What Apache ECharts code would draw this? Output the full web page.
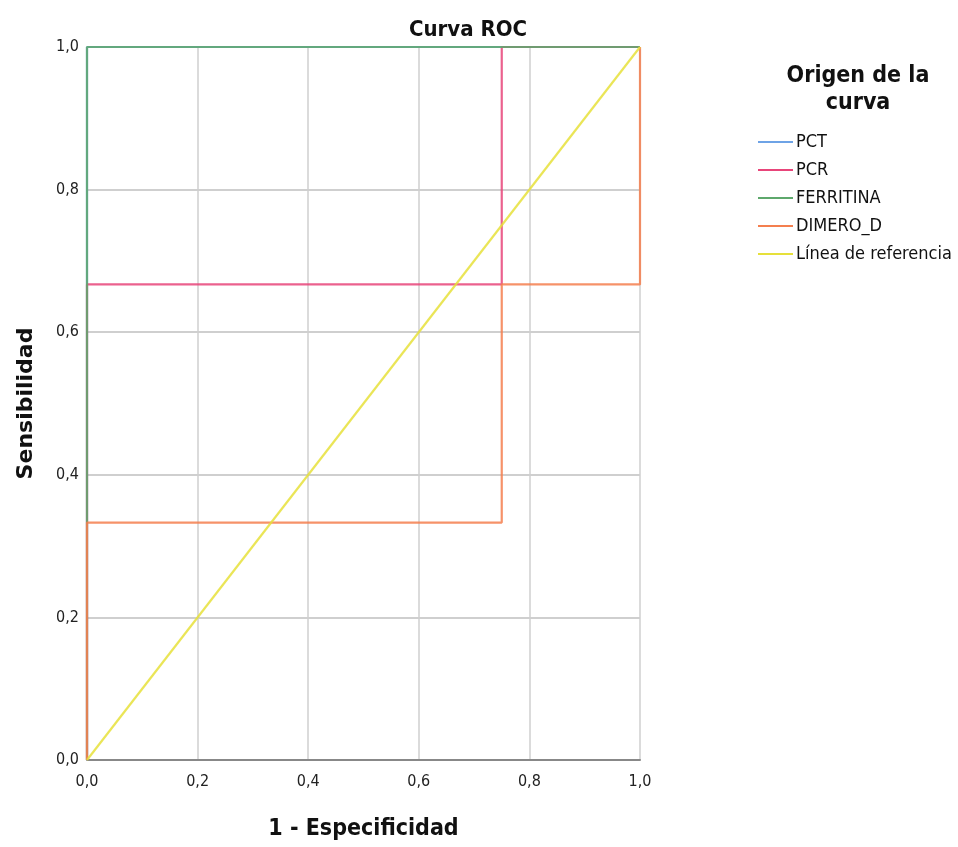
<!DOCTYPE html>
<html>
<head>
<meta charset="utf-8">
<script src="https://cdn.jsdelivr.net/npm/echarts@6/dist/echarts.min.js"></script>
<style>html,body{margin:0;padding:0;background:#fff}#c{width:958px;height:847px}</style>
</head>
<body>
<div id="c"></div>
<script>
const seriesNames = ['PCT', 'PCR', 'FERRITINA', 'DIMERO_D', 'Línea de referencia'];
const pctX = [0, 0, 1];
const pctY = [0, 1, 1];
const pcrX = [0, 0, 0.75, 0.75, 1];
const pcrY = [0, 0.667, 0.667, 1, 1];
const ferX = [0, 0, 1];
const ferY = [0, 1, 1];
const dimX = [0, 0, 0.75, 0.75, 1, 1];
const dimY = [0, 0.333, 0.333, 0.667, 0.667, 1];
const refX = [0, 1];
const refY = [0, 1];
const tickValues = [0, 0.2, 0.4, 0.6, 0.8, 1.0];

const colors = ['#6ea3e6', '#e8457a', '#5ea86c', '#f47f4f', '#e6e03a'];
const FONT = '"Liberation Sans Narrow","DejaVu Sans Condensed","Liberation Sans",sans-serif';

function zip(xs, ys) { return xs.map((x, i) => [x, ys[i]]); }
const dataSets = [zip(pctX, pctY), zip(pcrX, pcrY), zip(ferX, ferY), zip(dimX, dimY), zip(refX, refY)];

const fmt = v => v.toFixed(1).replace('.', ',');

const chart = echarts.init(document.getElementById('c'));
chart.setOption({
  animation: false,
  title: [
    { text: 'Curva ROC', left: 463, top: 14, textAlign: 'center',
      textStyle: { fontFamily: FONT, fontSize: 22, fontWeight: 'bold', color: '#111' } },
    { text: 'Origen de la\ncurva', left: 853, top: 58, textAlign: 'center',
      textStyle: { fontFamily: FONT, fontSize: 23, fontWeight: 'bold', color: '#111', lineHeight: 27 } }
  ],
  legend: {
    orient: 'vertical', left: 753, top: 128,
    itemWidth: 35, itemHeight: 2, itemGap: 10,
    icon: 'rect',
    textStyle: { fontFamily: FONT, fontSize: 18, color: '#111', lineHeight: 18, padding: [0, 0, 0, -2] },
    data: seriesNames
  },
  grid: { left: 87, right: 318, top: 47, bottom: 87 },
  xAxis: {
    type: 'value', min: 0, max: 1, interval: 0.2,
    name: '1 - Especificidad', nameLocation: 'middle', nameGap: 58,
    nameTextStyle: { fontFamily: FONT, fontSize: 23, fontWeight: 'bold', color: '#111' },
    axisLine: { show: true, onZero: false, lineStyle: { color: '#888', width: 2 } },
    axisTick: { show: false },
    axisLabel: { formatter: fmt, fontFamily: FONT, fontSize: 16, color: '#222', margin: 14 },
    splitLine: { show: true, lineStyle: { color: '#cfcfcf', width: 1.5 } }
  },
  yAxis: {
    type: 'value', min: 0, max: 1, interval: 0.2,
    name: 'Sensibilidad', nameLocation: 'middle', nameGap: 50,
    nameTextStyle: { fontFamily: '"DejaVu Sans",sans-serif', fontSize: 22, fontWeight: 'bold', color: '#111' },
    axisLine: { show: false },
    axisTick: { show: false },
    axisLabel: { formatter: fmt, fontFamily: FONT, fontSize: 16, color: '#222', margin: 8 },
    splitLine: { show: true, lineStyle: { color: '#cfcfcf', width: 2 } }
  },
  series: seriesNames.map((n, i) => ({
    name: n, type: 'line', data: dataSets[i], symbol: 'none', showSymbol: false,
    clip: false,
    color: colors[i],
    lineStyle: { color: colors[i], width: 2.2, opacity: 0.85 },
    itemStyle: { color: colors[i] },
    silent: true
  }))
});
</script>
</body>
</html>
